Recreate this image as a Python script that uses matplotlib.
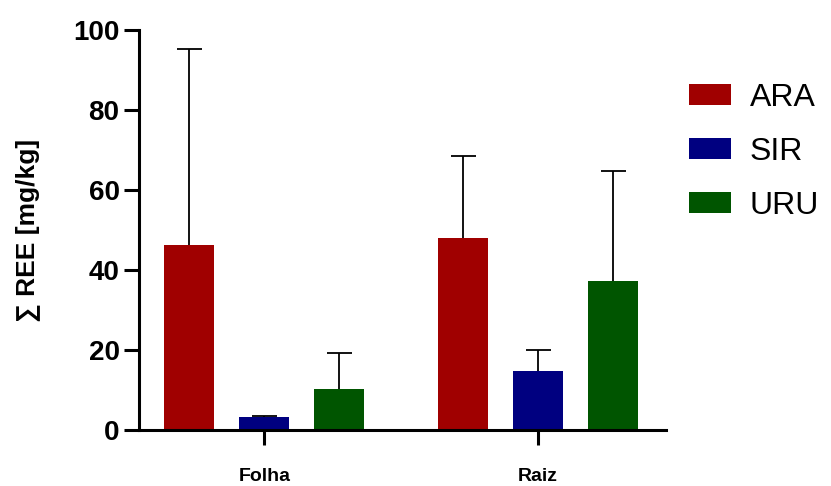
import numpy as np
import matplotlib
matplotlib.use("Agg")
import matplotlib.pyplot as plt

plt.rcParams['font.family'] = ['Liberation Sans', 'DejaVu Sans']

categories = ["Folha", "Raiz"]
series = ["ARA", "SIR", "URU"]
means = {
    "ARA": [46.2, 48.0],
    "SIR": [3.3, 14.7],
    "URU": [10.2, 37.3],
}
upper_err = {
    "ARA": [49.0, 20.4],
    "SIR": [0.3, 5.2],
    "URU": [9.1, 27.4],
}
colors = {"ARA": "#a00000", "SIR": "#000080", "URU": "#005500"}
yticks = [0, 20, 40, 60, 80, 100]

fig = plt.figure(figsize=(8.31, 4.86), dpi=100)
ax = fig.add_axes([0.1673, 0.1152, 0.8014 - 0.1673, 0.938 - 0.1152])

x = np.arange(len(categories))
step = 0.274
width = 0.183
for i, s in enumerate(series):
    xs = x + (i - 1) * step
    ax.bar(xs, means[s], width=width, color=colors[s], label=s, zorder=2)
    eb = ax.errorbar(xs, means[s], yerr=[np.zeros(len(xs)), upper_err[s]],
                     fmt="none", ecolor="black", elinewidth=1.3, capsize=9,
                     capthick=1.3, zorder=1)
    # keep only the upper cap
    eb[1][0].set_visible(False)

ax.set_xlim(-0.458, 1.469)
ax.set_ylim(0, 100)
ax.set_yticks(yticks)
ax.set_yticklabels([str(t) for t in yticks], fontsize=20, fontweight="bold")
ax.set_xticks(x)
ax.set_xticklabels(categories, fontsize=14, fontweight="bold")
ax.tick_params(axis="y", length=11, width=2.2, pad=3)
ax.tick_params(axis="x", length=11, width=2.2, pad=16)
for side in ["top", "right"]:
    ax.spines[side].set_visible(False)
for side in ["left", "bottom"]:
    ax.spines[side].set_linewidth(2.2)

ax.set_ylabel("∑ REE [mg/kg]", fontsize=19, fontweight="bold", labelpad=24)

ax.legend(loc="upper left", bbox_to_anchor=(1.02, 0.9), frameon=False,
          fontsize=23, handlelength=1.3, handleheight=0.65,
          handletextpad=0.6, labelspacing=0.75, borderaxespad=0)

fig.savefig("out.png", dpi=100)
